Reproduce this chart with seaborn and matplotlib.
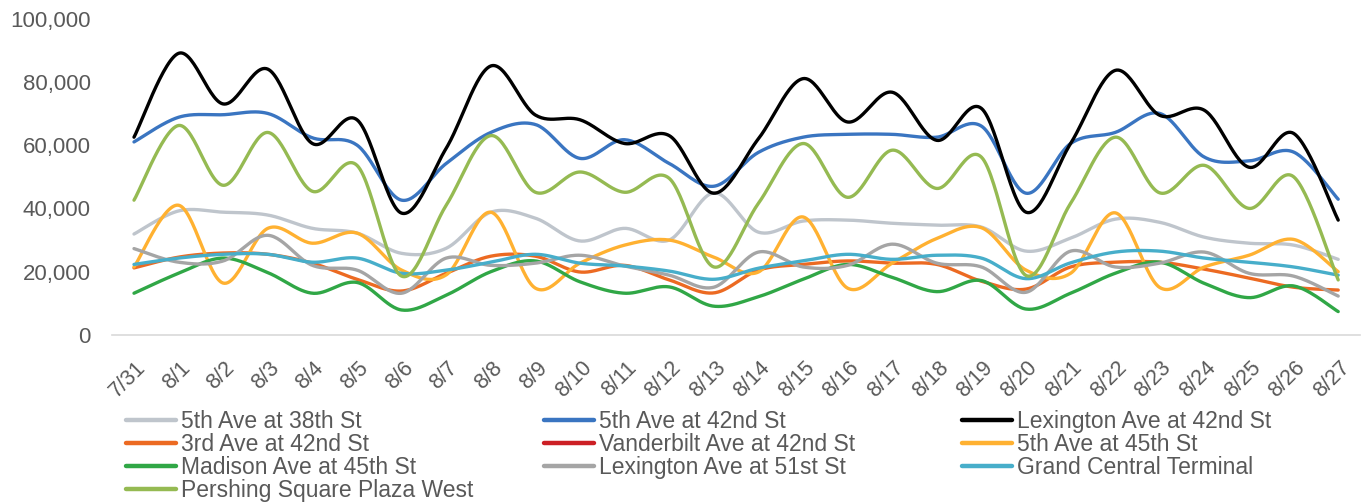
import numpy as np
import pandas as pd
import matplotlib
matplotlib.use("Agg")
import matplotlib.pyplot as plt
from matplotlib.lines import Line2D
import matplotlib.transforms as mtransforms
import seaborn as sns

# daily counts per station
dates = ['7/31', '8/1', '8/2', '8/3', '8/4', '8/5', '8/6', '8/7', '8/8', '8/9',
         '8/10', '8/11', '8/12', '8/13', '8/14', '8/15', '8/16', '8/17', '8/18',
         '8/19', '8/20', '8/21', '8/22', '8/23', '8/24', '8/25', '8/26', '8/27']

fifth_38 = [31900, 39200, 38800, 37900, 33700, 32200, 25800, 27400, 38800, 36900,
            29700, 33700, 30000, 44900, 32500, 36000, 36300, 35300, 34700, 34100,
            26500, 30600, 36600, 35600, 30900, 29000, 28400, 23900]
fifth_42 = [61000, 68800, 69600, 70000, 62300, 60000, 42600, 54200, 64000, 66500,
            55800, 61700, 54200, 47000, 57700, 62500, 63400, 63400, 62500, 66000,
            44800, 60500, 64000, 70000, 56200, 55000, 57800, 42900]
lex_42 = [62500, 89000, 73000, 84000, 60500, 68000, 38500, 59000, 85000, 69500,
          68000, 60500, 63000, 44800, 62000, 81000, 67300, 76700, 61500, 71600,
          38800, 60500, 83600, 69400, 71000, 53000, 63700, 36300]
third_42 = [21200, 24600, 25900, 25500, 22700, 17600, 13900, 19500, 24900, 24900,
            19900, 22000, 17400, 13300, 20500, 22300, 23400, 22700, 22300, 17000,
            14500, 21500, 23000, 23000, 20800, 18000, 15100, 14200]
vanderbilt_42 = []  # in the legend but no line drawn
fifth_45 = [21500, 41000, 16400, 33700, 29000, 32200, 20500, 19000, 38800, 14800,
            22700, 28400, 30000, 24600, 19900, 37300, 14800, 22700, 30500, 33900,
            20500, 19500, 38600, 15000, 21500, 25200, 30200, 20000]
madison_45 = [13200, 19500, 24300, 19700, 13200, 16600, 7900, 12600, 20000, 23400,
              16800, 13200, 15200, 9100, 12100, 17600, 22300, 18200, 13700, 17200,
              8200, 13200, 19500, 23000, 16300, 11800, 15500, 7400]
lex_51 = [27300, 23000, 23400, 31500, 22000, 20500, 13200, 24300, 22000, 22700,
          25200, 21800, 18900, 15100, 26200, 21500, 22000, 28700, 22700, 21500,
          13500, 26500, 21500, 22700, 26200, 19500, 18600, 12300]
grand_central = [22300, 24300, 25500, 25500, 23000, 24300, 19500, 20500, 23000, 25500,
                 22700, 21800, 20200, 17600, 21100, 23400, 25500, 23900, 25200, 24300,
                 17800, 22800, 26200, 26500, 24300, 23000, 21500, 18900]
pershing = [42600, 66200, 47300, 64000, 45400, 53600, 18600, 41000, 63000, 45100,
            51500, 45100, 49500, 21500, 41600, 60500, 43500, 58400, 46300, 56200,
            18800, 41600, 62500, 44900, 53600, 40000, 50000, 17400]

series = [
    ("5th Ave at 38th St", fifth_38, "#BFC5CC"),
    ("5th Ave at 42nd St", fifth_42, "#3A75C1"),
    ("Lexington Ave at 42nd St", lex_42, "#000000"),
    ("3rd Ave at 42nd St", third_42, "#EC6A22"),
    ("Vanderbilt Ave at 42nd St", vanderbilt_42, "#CC1F25"),
    ("5th Ave at 45th St", fifth_45, "#FFB131"),
    ("Madison Ave at 45th St", madison_45, "#30A746"),
    ("Lexington Ave at 51st St", lex_51, "#A5A5A5"),
    ("Grand Central Terminal", grand_central, "#47AECA"),
    ("Pershing Square Plaza West", pershing, "#95BA52"),
]


def smooth(vals, n=30):
    # excel style smoothed line: bezier segments with catmull-rom control points
    p = np.column_stack([np.arange(len(vals), dtype=float), np.asarray(vals, float)])
    t = np.linspace(0, 1, n)[:, None]
    out = []
    for i in range(len(p) - 1):
        p0 = p[i - 1] if i > 0 else p[i]
        p1, p2 = p[i], p[i + 1]
        p3 = p[i + 2] if i + 2 < len(p) else p[i + 1]
        c1 = p1 + (p2 - p0) / 6
        c2 = p2 - (p3 - p1) / 6
        seg = ((1 - t) ** 3) * p1 + 3 * ((1 - t) ** 2) * t * c1 + 3 * (1 - t) * t ** 2 * c2 + t ** 3 * p2
        out.append(seg if i == 0 else seg[1:])
    return np.vstack(out)


sns.set_style("white")
plt.rcParams['font.family'] = ['Liberation Sans', 'DejaVu Sans']
txt = "#595959"

fig = plt.figure(figsize=(13.61, 5.03), dpi=100)
ax = fig.add_axes([111.7 / 1361, 1 - 335 / 503, (1360.5 - 111.7) / 1361, (335 - 18.5) / 503])

handles = []
for name, vals, col in series:
    if len(vals):
        xy = smooth(vals)
        sns.lineplot(x=xy[:, 0], y=xy[:, 1], color=col, linewidth=2.4, sort=False,
                     estimator=None, ax=ax)
    handles.append(Line2D([], [], color=col, linewidth=3.2, label=name))

ax.set_xlim(-0.5, len(dates) - 0.5)
ax.set_ylim(0, 100000)
ax.set_yticks(np.arange(0, 100001, 20000))
ax.yaxis.set_major_formatter(matplotlib.ticker.FuncFormatter(lambda v, _: f"{int(v):,}"))
ax.set_xticks(np.arange(len(dates)))
ax.set_xticks(np.arange(len(dates) + 1) - 0.5, minor=True)
ax.set_xticklabels(dates, rotation=45, ha='right', va='top', rotation_mode='anchor')
ax.tick_params(axis='x', which='major', length=0, pad=16, labelsize=15.5, labelcolor=txt)
ax.tick_params(axis='x', which='minor', length=6, width=1.2, color="#D9D9D9")
ax.tick_params(axis='y', length=0, pad=15, labelsize=16, labelcolor=txt)
shift = mtransforms.ScaledTranslation(1 / 100, 0, fig.dpi_scale_trans)
for lab in ax.get_xticklabels():
    lab.set_transform(lab.get_transform() + shift)

for s in ['top', 'right', 'left']:
    ax.spines[s].set_visible(False)
ax.spines['bottom'].set_color("#D9D9D9")
ax.spines['bottom'].set_linewidth(1.2)
ax.set_xlabel("")
ax.set_ylabel("")

# three legend columns, filled row by row like the original
for c, x0 in enumerate([126, 544, 962]):
    leg = fig.legend(handles=handles[c::3], loc='upper left',
                     bbox_to_anchor=(x0 / 1361, 1 - 410 / 503), frameon=False,
                     fontsize=16.5, labelcolor=txt, handlelength=2.2, handletextpad=0.22,
                     labelspacing=0.0, borderpad=0, borderaxespad=0)

fig.savefig("out.png", dpi=100)
